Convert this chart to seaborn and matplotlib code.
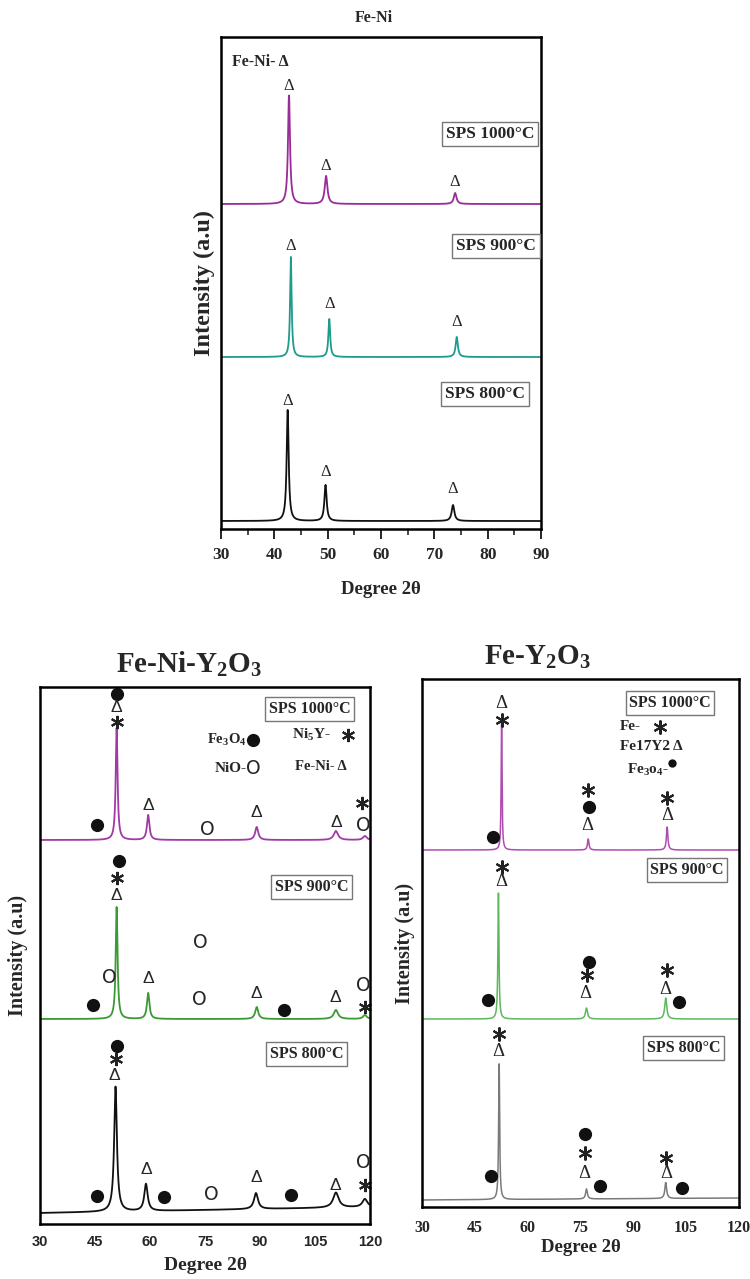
import numpy as np
import pandas as pd
import matplotlib
matplotlib.use("Agg")
import matplotlib.pyplot as plt
import seaborn as sns

# ---------------- data ----------------
temps = ["SPS 800°C", "SPS 900°C", "SPS 1000°C"]

# Fe-Ni panel (2theta 30-90), intensity in arbitrary units
feni_base = [8, 172, 325]
feni_pos = [[42.5, 49.6, 73.5], [43.1, 50.3, 74.2], [42.75, 49.7, 73.9]]
feni_hgt = [[111, 36, 16], [100, 38, 20], [109, 28, 11]]
feni_fwhm = [[0.45, 0.5, 0.6], [0.35, 0.4, 0.5], [0.45, 0.6, 0.6]]

# Fe-Ni-Y2O3 panel (2theta 30-120)
fny_base0 = [11, 205, 384]
fny_base1 = [17, 205, 384]
fny_pos = [[50.6, 58.9, 88.9, 110.7, 118.6],
           [50.9, 59.5, 89.1, 110.7, 118.6],
           [50.9, 59.5, 89.1, 110.7, 118.6]]
fny_hgt = [[125, 27, 16, 15, 8], [112, 26, 12, 9, 4], [112, 25, 13, 9, 4]]
fny_fwhm = [[0.9, 1.1, 1.3, 1.8, 1.6], [0.6, 0.8, 1.0, 1.4, 1.2],
            [0.6, 0.8, 1.0, 1.4, 1.2]]

# Fe-Y2O3 panel (2theta 30-120)
fy_base0 = [7, 188, 357]
fy_base1 = [9, 188, 357]
fy_pos = [[51.9, 76.7, 99.2], [51.7, 76.7, 99.2], [52.6, 77.2, 99.6]]
fy_hgt = [[136, 10, 16], [127, 11, 21], [128, 11, 23]]
fy_fwhm = [[0.35, 0.6, 0.6], [0.35, 0.7, 0.7], [0.3, 0.5, 0.5]]

# phase symbols: (2theta, intensity, symbol)  D=Δ, S=*, F=●, O=O
feni_marks = [(42.5, 128, "D"), (49.6, 57, "D"), (73.5, 40, "D"),
              (43.1, 283, "D"), (50.3, 225, "D"), (74.2, 207, "D"),
              (42.75, 443, "D"), (49.7, 363, "D"), (73.9, 347, "D")]
fny_marks = [
    (45.5, 399, "F"), (50.9, 530, "F"), (50.9, 517, "D"), (50.9, 502, "S"),
    (59.5, 419, "D"), (75.5, 395, "O"), (89.1, 412, "D"), (110.7, 402, "D"),
    (117.8, 421, "S"), (118.2, 399, "O"),
    (51.6, 363, "F"), (50.9, 346, "S"), (50.9, 329, "D"), (73.6, 282, "O"),
    (49.0, 247, "O"), (44.4, 219, "F"), (59.5, 246, "D"), (73.4, 225, "O"),
    (89.1, 231, "D"), (96.6, 214, "F"), (110.5, 227, "D"), (118.3, 239, "O"),
    (118.5, 217, "S"),
    (51.0, 178, "F"), (50.6, 165, "S"), (50.4, 149, "D"), (45.5, 28, "F"),
    (59.0, 54, "D"), (63.9, 27, "F"), (76.6, 29, "O"), (88.9, 46, "D"),
    (98.5, 29, "F"), (110.5, 39, "D"), (118.2, 62, "O"), (118.5, 39, "S")]
fy_marks = [
    (52.6, 504, "D"), (52.6, 487, "S"), (50.2, 370, "F"), (77.0, 417, "S"),
    (77.3, 400, "F"), (76.8, 381, "D"), (99.6, 409, "S"), (99.6, 392, "D"),
    (52.6, 340, "S"), (52.6, 325, "D"), (48.8, 207, "F"), (77.4, 245, "F"),
    (76.8, 232, "S"), (76.5, 214, "D"), (99.6, 237, "S"), (99.0, 218, "D"),
    (103.0, 205, "F"),
    (51.8, 173, "S"), (51.6, 155, "D"), (49.6, 31, "F"), (76.2, 73, "F"),
    (76.2, 54, "S"), (76.2, 33, "D"), (80.6, 21, "F"), (99.3, 49, "S"),
    (99.3, 33, "D"), (103.9, 19, "F")]

# sample label positions (2theta, intensity)
feni_lab = [(79.5, 135), (81.6, 283), (80.4, 395)]
fny_lab = [(102.7, 170), (104.0, 337), (103.5, 515)]
fy_lab = [(104.2, 159), (105.2, 337), (100.4, 504)]

# ---------------- style ----------------
sns.set_style("white")
plt.rcParams['font.family'] = ['Liberation Serif', 'DejaVu Sans']
plt.rcParams['font.weight'] = 'bold'
plt.rcParams['mathtext.fontset'] = 'custom'
plt.rcParams['mathtext.rm'] = 'Liberation Serif:bold'
plt.rcParams['mathtext.it'] = 'Liberation Serif:bold'
plt.rcParams['mathtext.bf'] = 'Liberation Serif:bold'


def profile(x, b0, b1, pos, hgt, fwhm):
    y = b0 + (b1 - b0) * (x - x[0]) / (x[-1] - x[0])
    for c, h, w in zip(pos, hgt, fwhm):
        y = y + h / (1.0 + ((x - c) / (w / 2.0)) ** 2)
    return y


def build(x, b0, b1, pos, hgt, fwhm):
    frames = []
    for i, t in enumerate(temps):
        frames.append(pd.DataFrame({"2theta": x, "I": profile(x, b0[i], b1[i], pos[i], hgt[i], fwhm[i]),
                                    "sample": t}))
    return pd.concat(frames, ignore_index=True)


def marks(ax, items, dsize, dfam, ssize, fsize):
    for x, y, s in items:
        if s == "D":
            ax.text(x, y, "Δ", ha="center", va="center", fontsize=dsize,
                    family=dfam, fontweight="normal", clip_on=False)
        elif s == "S":
            ax.plot([x], [y], marker=(6, 2, 0), ms=ssize, mew=1.5, color="#222", clip_on=False)
        elif s == "F":
            ax.plot([x], [y], marker="o", ms=fsize, color="#111", mew=0, clip_on=False)
        elif s == "O":
            ax.text(x, y, "O", ha="center", va="center", fontsize=13.5,
                    family="DejaVu Sans", fontweight="normal", clip_on=False)


def sample_labels(ax, pos, size):
    for (x, y), t in zip(pos, temps):
        ax.text(x, y, t, ha="center", va="center", fontsize=size, fontweight="bold",
                bbox=dict(boxstyle="square,pad=0.22", fc="white", ec="#777777", lw=1.0))


fig = plt.figure(figsize=(7.5, 12.79), dpi=100)

# ---------------- top: Fe-Ni ----------------
ax1 = fig.add_axes([221 / 750, 1 - 529 / 1279, 320 / 750, 492 / 1279])
x1 = np.linspace(30, 90, 1801)
d1 = build(x1, feni_base, feni_base, feni_pos, feni_hgt, feni_fwhm)
sns.lineplot(data=d1, x="2theta", y="I", hue="sample", estimator=None, sort=False,
             palette=["#111111", "#1f9a8c", "#9a2c98"], linewidth=1.3, legend=False, ax=ax1)
ax1.set_xlim(30, 90)
ax1.set_ylim(0, 492)
ax1.set_xticks(range(30, 91, 10))
ax1.set_xticks(range(35, 90, 10), minor=True)
ax1.set_yticks([])
ax1.tick_params(axis="x", which="major", direction="out", length=7, width=1.4,
                labelsize=12.5, pad=6, bottom=True)
ax1.tick_params(axis="x", which="minor", direction="out", length=4, width=1.2, bottom=True)
for lab in ax1.get_xticklabels():
    lab.set_fontweight("bold")
ax1.set_xlabel("Degree 2θ", fontsize=13.5, fontweight="bold")
ax1.xaxis.set_label_coords(0.5, -60 / 492)
ax1.xaxis.label.set_va("center")
ax1.set_ylabel("Intensity (a.u)", fontsize=17.5, fontweight="bold")
ax1.yaxis.set_label_coords(-17 / 320, 0.5)
ax1.yaxis.label.set_va("center")
ax1.set_title("Fe-Ni", fontsize=11.5, fontweight="bold", pad=11, x=(374 - 221) / 320)
ax1.text(32.1, 467, "Fe-Ni- Δ", ha="left", va="center", fontsize=11.5, fontweight="bold")
marks(ax1, feni_marks, 12, "Liberation Serif", 9, 9.5)
sample_labels(ax1, feni_lab, 12.5)

# ---------------- bottom-left: Fe-Ni-Y2O3 ----------------
ax2 = fig.add_axes([40 / 750, 1 - 1224 / 1279, 330 / 750, 537 / 1279])
x2 = np.linspace(30.3, 119.8, 2400)
d2 = build(x2, fny_base0, fny_base1, fny_pos, fny_hgt, fny_fwhm)
sns.lineplot(data=d2, x="2theta", y="I", hue="sample", estimator=None, sort=False,
             palette=["#111111", "#3a9a34", "#a23aa6"], linewidth=1.3, legend=False, ax=ax2)
ax2.set_xlim(30, 120)
ax2.set_ylim(0, 537)
ax2.set_xticks(range(30, 121, 15))
ax2.set_yticks([])
ax2.tick_params(axis="x", length=0, pad=8)
for lab in ax2.get_xticklabels():
    lab.set_family("Liberation Sans")
    lab.set_fontweight("bold")
    lab.set_fontsize(10.5)
ax2.set_xlabel("Degree 2θ", fontsize=14, fontweight="bold")
ax2.xaxis.set_label_coords(0.5, -41 / 537)
ax2.xaxis.label.set_va("center")
ax2.set_ylabel("Intensity (a.u)", fontsize=14.5, fontweight="bold")
ax2.yaxis.set_label_coords(-22 / 330, 0.5)
ax2.yaxis.label.set_va("center")
ax2.set_title(r"Fe-Ni-Y$_2$O$_3$", fontsize=21, fontweight="bold", pad=10,
              x=(189 - 40) / 330)
marks(ax2, fny_marks, 12.5, "Liberation Sans", 9.5, 9.5)
sample_labels(ax2, fny_lab, 11.5)
ax2.text(86.4, 484, r"Fe$_3$O$_4$", ha="right", va="center", fontsize=10.5, fontweight="bold")
ax2.plot([88.1], [484], marker="o", ms=9.5, color="#111", mew=0)
ax2.text(86.4, 456, "NiO-", ha="right", va="center", fontsize=11, fontweight="bold")
ax2.text(88.1, 456, "O", ha="center", va="center", fontsize=13.5, family="DejaVu Sans",
         fontweight="normal")
ax2.text(98.7, 489, r"Ni$_5$Y-", ha="left", va="center", fontsize=11, fontweight="bold")
ax2.plot([114.0], [489], marker=(6, 2, 0), ms=9.5, mew=1.5, color="#222")
ax2.text(99.5, 458, "Fe-Ni- Δ", ha="left", va="center", fontsize=10.5, fontweight="bold")

# ---------------- bottom-right: Fe-Y2O3 ----------------
ax3 = fig.add_axes([422 / 750, 1 - 1207 / 1279, 317 / 750, 528 / 1279])
x3 = np.linspace(30, 120, 2400)
d3 = build(x3, fy_base0, fy_base1, fy_pos, fy_hgt, fy_fwhm)
sns.lineplot(data=d3, x="2theta", y="I", hue="sample", estimator=None, sort=False,
             palette=["#7a7a7a", "#5cb85c", "#b04cb0"], linewidth=1.1, legend=False, ax=ax3)
ax3.set_xlim(30, 120)
ax3.set_ylim(0, 528)
ax3.set_xticks(range(30, 121, 15))
ax3.set_yticks([])
ax3.tick_params(axis="x", length=0, pad=9, labelsize=11.5)
for lab in ax3.get_xticklabels():
    lab.set_fontweight("bold")
ax3.set_xlabel("Degree 2θ", fontsize=13.5, fontweight="bold")
ax3.xaxis.set_label_coords(0.5, -41 / 528)
ax3.xaxis.label.set_va("center")
ax3.set_ylabel("Intensity (a.u)", fontsize=14.5, fontweight="bold")
ax3.yaxis.set_label_coords(-17 / 317, 0.5)
ax3.yaxis.label.set_va("center")
ax3.set_title(r"Fe-Y$_2$O$_3$", fontsize=21, fontweight="bold", pad=10,
              x=(538 - 422) / 317)
marks(ax3, fy_marks, 13.5, "Liberation Serif", 10, 9.5)
sample_labels(ax3, fy_lab, 11.5)
ax3.text(86.2, 480, "Fe-", ha="left", va="center", fontsize=11, fontweight="bold")
ax3.plot([97.6], [480], marker=(6, 2, 0), ms=10, mew=1.5, color="#222")
ax3.text(86.2, 460, "Fe17Y2 Δ", ha="left", va="center", fontsize=11, fontweight="bold")
ax3.text(88.2, 437, r"Fe$_3$o$_4$-", ha="left", va="center", fontsize=11, fontweight="bold")
ax3.plot([101.0], [444], marker="o", ms=6, color="#111", mew=0)

for ax in (ax1, ax2, ax3):
    for sp in ax.spines.values():
        sp.set_visible(True)
        sp.set_color("black")
        sp.set_linewidth(1.8)

fig.savefig("out.png", dpi=100, facecolor="white")
